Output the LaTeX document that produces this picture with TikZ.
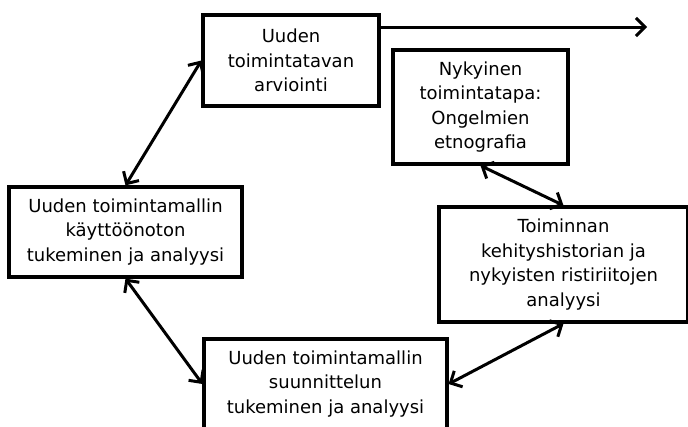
\documentclass[tikz,border=0pt]{standalone}
\usepackage{fontspec}
\setmainfont{DejaVu Sans}
\usetikzlibrary{arrows.meta}
\begin{document}
\begin{tikzpicture}[x=1pt,y=-1pt,
rect/.style={
draw,
line width=3.2pt,
align=center,
inner sep=0pt,
font=\fontsize{18}{24.5}\selectfont
},
link/.style={line width=3pt,{Straight Barb[length=9pt,width=18pt]}-{Straight Barb[length=9pt,width=18pt]}}
]
\useasboundingbox (0,0) rectangle (688,426);
\clip (0,0) rectangle (688,426);
\node[rect, minimum width=176pt, minimum height=91pt] (1) at (291,60.5) {Uuden\\toimintatavan\\arviointi};
\node[rect, minimum width=175pt, minimum height=114pt] (2) at (480.5,107) {Nykyinen\\toimintatapa:\\Ongelmien\\etnografia};
\node[rect, minimum width=233pt, minimum height=90pt] (3) at (125.5,232) {Uuden toimintamallin\\käyttöönoton\\tukeminen ja analyysi};
\node[rect, minimum width=249pt, minimum height=115pt] (4) at (563.5,264.5) {Toiminnan\\kehityshistorian ja\\nykyisten ristiriitojen\\analyysi};
\node[rect, minimum width=243pt, minimum height=90pt] (5) at (325.5,384) {Uuden toimintamallin\\suunnittelun\\tukeminen ja analyysi};

\coordinate (out) at (647,27);
\draw[line width=3pt,-{Straight Barb[length=9pt,width=18pt]}] (1.east |- out) -- (out);
\draw[link] (1.west) -- (3.north);
\draw[link] (2.south) -- (4.north);
\draw[link] (4.south) -- (5.east);
\draw[link] (3.south) -- (5.west);

\end{tikzpicture}
\end{document}
